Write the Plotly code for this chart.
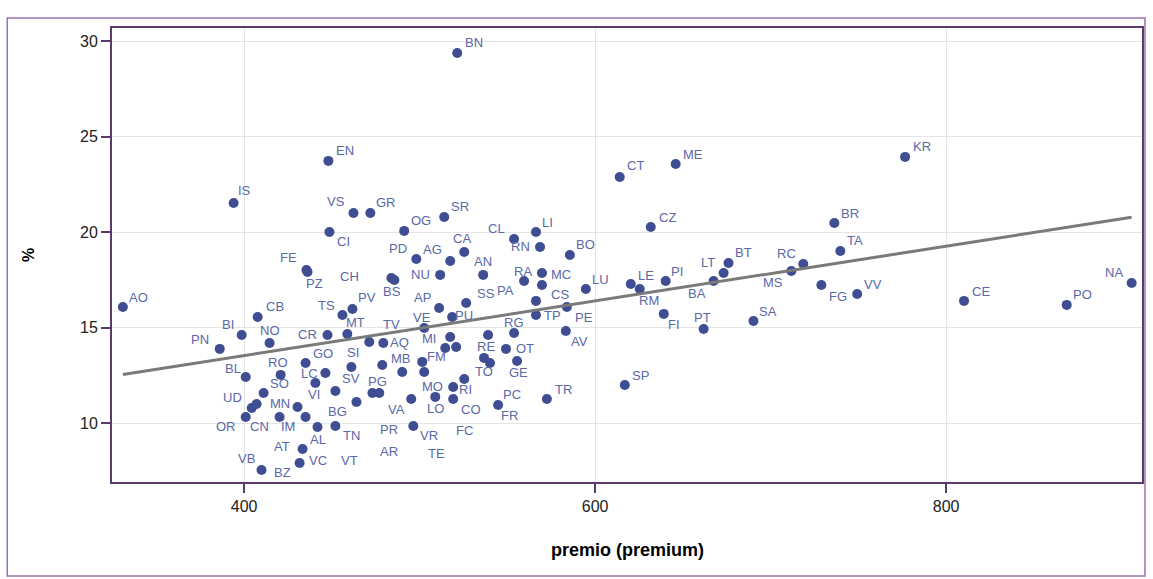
import plotly.graph_objects as go

# Province codes with premium (x) and percentage (y)
provinces = [
    "BN", "EN", "IS", "KR", "ME", "CT", "VS", "GR", "SR", "CI", "OG", "CZ", "BR", "CL", "LI", "RN",
    "BO", "CA", "PD", "AG", "NU", "AN", "CH", "BS", "FE", "PZ", "TA", "BT", "LT", "RC", "MS", "BA",
    "PI", "LE", "RM", "LU", "FG", "VV", "CE", "PO", "NA", "SA", "FI", "PT", "SP", "TR", "AO",
    "RA", "MC", "PA", "CS", "TP", "PE", "AV", "SS", "AP", "PU", "VE", "RG", "MI",
    "RE", "OT", "TO", "GE", "MO", "RI", "CO", "LO", "VA", "FR", "PC", "TV", "MT", "AQ", "SI", "MB",
    "FM", "PG", "PR", "SV", "BG", "TN", "VR", "AR", "TE", "FC", "VT",
    "CR", "CB", "BI", "NO", "PN", "BL", "GO", "RO", "LC", "VI", "UD", "CN", "MN", "OR", "IM", "SO",
    "BZ", "AL", "AT", "VC", "VB", "TS", "PV",
]
premio = [
    521.4, 448.0, 394.0, 776.6, 645.9, 614.0, 462.3, 471.9, 514.0, 448.6, 491.2, 631.7, 736.3, 553.8, 566.3, 568.6,
    585.6, 525.4, 498.1, 517.4, 511.7, 536.2, 483.9, 485.6, 435.5, 436.1, 739.7, 676.0, 673.2, 718.6, 711.8, 667.5,
    640.2, 620.3, 625.4, 594.7, 728.9, 749.3, 810.2, 868.7, 905.7, 690.2, 639.1, 661.8, 616.9, 572.5, 330.9,
    559.5, 569.7, 569.7, 566.3, 566.3, 583.9, 583.3, 526.5, 511.1, 518.5, 502.6, 553.8, 517.4,
    539.0, 549.2, 540.1, 555.5, 519.1, 525.4, 519.1, 508.9, 495.2, 544.7, 536.7, 471.3, 458.8, 479.3, 461.1, 478.7,
    501.5, 473.1, 477.0, 452.0, 464.0, 452.0, 496.4, 490.1, 502.6, 514.6, 520.8,
    447.5, 407.7, 398.6, 414.5, 386.1, 400.9, 435.0, 420.8, 446.3, 440.6, 411.1, 404.3, 407.1, 400.9, 420.2, 430.4,
    435.0, 441.8, 433.3, 431.6, 409.9, 456.0, 461.7,
]
pct = [
    29.37, 23.73, 21.53, 23.94, 23.57, 22.89, 21.01, 21.01, 20.80, 20.01, 20.07, 20.27, 20.48, 19.65, 20.01, 19.23,
    18.81, 18.97, 18.60, 18.50, 17.77, 17.77, 17.61, 17.50, 18.03, 17.92, 19.02, 18.39, 17.87, 18.34, 17.97, 17.45,
    17.45, 17.29, 17.03, 17.03, 17.24, 16.77, 16.41, 16.20, 17.35, 15.36, 15.73, 14.94, 12.01, 11.28, 16.09,
    17.45, 17.87, 17.24, 16.41, 15.67, 16.09, 14.84, 16.30, 16.04, 15.57, 14.99, 14.73, 14.52,
    14.63, 13.90, 13.16, 13.27, 11.91, 12.33, 11.28, 11.39, 11.28, 10.97, 13.43, 14.26, 14.68, 14.21, 12.95, 13.06,
    13.22, 11.59, 11.59, 11.70, 11.12, 9.87, 9.87, 12.69, 12.69, 13.95, 14.00,
    14.63, 15.57, 14.63, 14.21, 13.90, 12.43, 13.16, 12.54, 12.64, 12.12, 11.59, 10.81, 11.02, 10.34, 10.34, 10.86,
    10.34, 9.82, 8.67, 7.93, 7.57, 15.67, 15.99,
]

# Linear fit of pct on premio
fit_intercept = 7.83
fit_slope = 0.0143

x_ticks = [400, 600, 800]
y_ticks = [10, 15, 20, 25, 30]

# Label placement (pixel offsets from each marker)
label_offsets = {
    "BN": (17, -11), "EN": (17, -10), "IS": (11, -12), "KR": (17, -10), "ME": (17, -9), "CT": (16, -11),
    "VS": (-17, -11), "GR": (16, -10), "SR": (16, -10), "CI": (14, 9), "OG": (17, -10), "CZ": (17, -10),
    "BR": (16, -10), "CL": (-18, -10), "LI": (11, -10), "RN": (-20, 0), "BO": (16, -11), "CA": (-2, -13),
    "PD": (-18, -11), "AG": (-18, -11), "NU": (-20, 0), "AN": (0, -13), "CH": (-42, -1), "BS": (-2, 11),
    "FE": (-18, -12), "PZ": (7, 11), "TA": (15, -10), "BT": (15, -11), "LT": (-16, -10), "RC": (-17, -10),
    "MS": (-18, 11), "BA": (-17, 12), "PI": (11, -10), "LE": (15, -9), "RM": (9, 11), "LU": (15, -10),
    "FG": (17, 11), "VV": (16, -10), "CE": (17, -9), "PO": (16, -10), "NA": (-18, -10), "SA": (15, -9),
    "FI": (10, 11), "PT": (-1, -12), "SP": (16, -10), "TR": (17, -10), "AO": (16, -10),
    "RA": (-1, -10), "MC": (19, 2), "PA": (-36, 5), "CS": (24, -6), "TP": (16, 0), "PE": (17, 10),
    "AV": (14, 11), "SS": (20, -10), "AP": (-17, -10), "PU": (12, -1), "VE": (-2, -11), "RG": (0, -11),
    "MI": (-21, 1), "RE": (-2, 12), "OT": (19, 0), "TO": (-6, 8), "GE": (1, 12), "MO": (-21, 0),
    "RI": (1, 11), "CO": (18, 10), "LO": (0, 12), "VA": (-15, 10), "FR": (11, 11), "PC": (28, 37),
    "TV": (22, -18), "MT": (8, -11), "AQ": (16, 0), "SI": (2, -15), "MB": (19, -6), "FM": (14, -5),
    "PG": (5, -12), "PR": (10, 36), "SV": (16, -12), "BG": (-19, 9), "TN": (16, 10), "VR": (16, 10),
    "AR": (-13, 79), "TE": (12, 81), "FC": (19, 83), "VT": (-107, 114),
    "CR": (-20, 0), "CB": (17, -10), "BI": (-14, -10), "NO": (0, -12), "PN": (-20, -9), "BL": (-13, -9),
    "GO": (17, -10), "RO": (-3, -12), "LC": (-16, 1), "VI": (-1, 12), "UD": (-31, 4), "CN": (8, 19),
    "MN": (23, 0), "OR": (-20, 10), "IM": (8, 10), "SO": (-18, -24), "BZ": (-23, 56), "AL": (0, 13),
    "AT": (-21, -2), "VC": (18, -3), "VB": (-15, -11), "TS": (-16, -10), "PV": (15, -11),
}

FONT = "Arial, Liberation Sans, sans-serif"
FRAME = "#5b3b6c"
MARKER = "#3f4d93"
LABEL = "#5a68a6"

fig = go.Figure()

fig.add_trace(go.Scatter(
    x=premio, y=pct, mode="markers",
    marker=dict(size=10, color=MARKER),
    hovertext=provinces, showlegend=False,
))

x_lo, x_hi = min(premio), max(premio)
fig.add_trace(go.Scatter(
    x=[x_lo, x_hi],
    y=[fit_intercept + fit_slope * x_lo, fit_intercept + fit_slope * x_hi],
    mode="lines", line=dict(color="#7a7a7a", width=3), showlegend=False,
))

annotations = []
for name, xv, yv in zip(provinces, premio, pct):
    dx, dy = label_offsets[name]
    annotations.append(dict(
        x=xv, y=yv, xref="x", yref="y", text=name, showarrow=False,
        xanchor="center", yanchor="middle", xshift=dx, yshift=-dy,
        font=dict(family=FONT, size=13, color=LABEL),
    ))

# axis titles
annotations.append(dict(
    x=0.5, y=0, xref="paper", yref="paper", text="<b>premio (premium)</b>",
    showarrow=False, xanchor="center", yanchor="top", yshift=-56,
    font=dict(family=FONT, size=18, color="#000000"),
))
annotations.append(dict(
    x=0, y=0.5, xref="paper", yref="paper", text="<b>%</b>", textangle=-90,
    showarrow=False, xanchor="center", yanchor="middle", xshift=-84,
    font=dict(family=FONT, size=16, color="#000000"),
))

axis_common = dict(
    showline=True, linecolor=FRAME, linewidth=2, mirror=True,
    ticks="outside", ticklen=9, tickwidth=1.5, tickcolor=FRAME,
    showgrid=True, gridcolor="#e4e4e4", gridwidth=1, zeroline=False,
    tickfont=dict(family=FONT, size=16, color="#222222"),
)

fig.update_layout(
    width=1153, height=579,
    margin=dict(l=112, r=9, t=28, b=97),
    paper_bgcolor="#ffffff", plot_bgcolor="#ffffff",
    xaxis=dict(range=[324.7, 911.6], tickvals=x_ticks, **axis_common),
    yaxis=dict(range=[6.94, 30.68], tickvals=y_ticks, **axis_common),
    annotations=annotations,
    shapes=[dict(
        type="rect", xref="paper", yref="paper",
        x0=-0.1017, x1=1.0029, y0=-0.207, y1=1.022,
        line=dict(color="#9a72ad", width=1.5), layer="below",
    )],
)

fig.write_html("out.html")
